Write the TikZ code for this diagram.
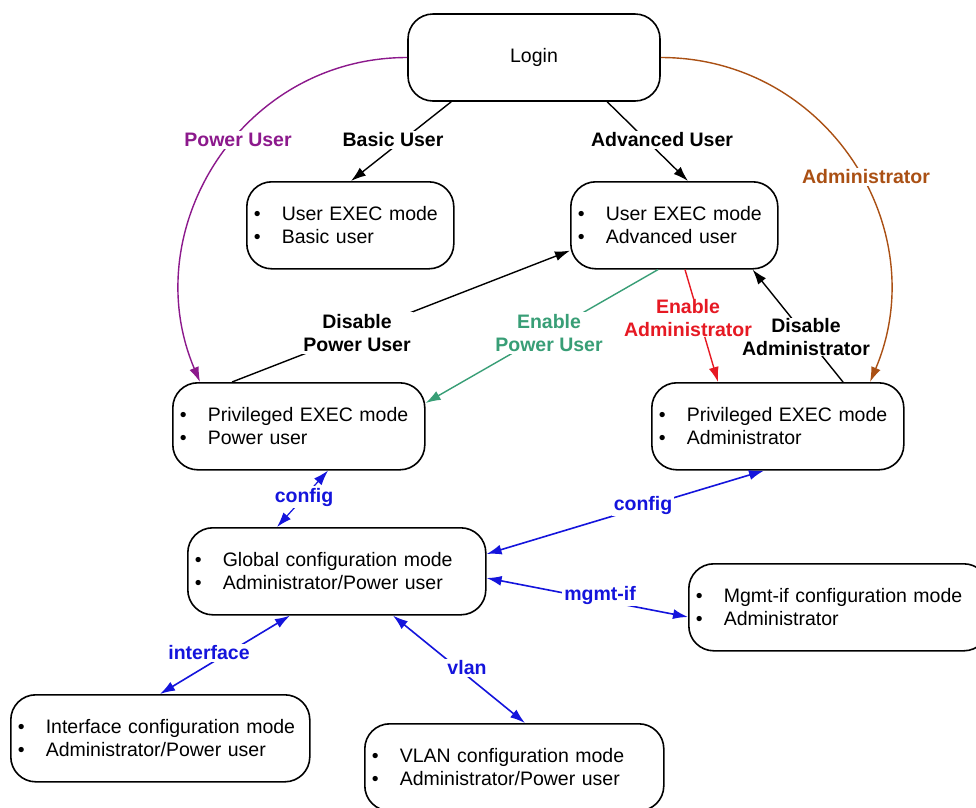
\documentclass[tikz,border=0pt]{standalone}
\usepackage{fontspec}
\setmainfont{Liberation Sans}
\usetikzlibrary{arrows.meta,calc}
\definecolor{pur}{RGB}{140,25,140}
\definecolor{brn}{RGB}{170,80,20}
\definecolor{grn}{RGB}{56,158,118}
\definecolor{rd}{RGB}{230,25,35}
\definecolor{blu}{RGB}{20,20,220}
\newcommand\bul{\makebox[28pt][l]{\textbullet}}
\begin{document}
\begin{tikzpicture}[x=1pt,y=1pt,
 every node/.style={font=\fontsize{19.5}{23}\selectfont},
 mode/.style={draw, line width=1.6pt, rounded corners=25pt, anchor=north west,
   minimum height=87pt, inner xsep=7pt, inner ysep=0pt, align=left},
 lbl/.style={fill=white, inner sep=2pt, align=center,
   font=\fontsize{19.5}{23}\selectfont\bfseries},
 con/.style={line width=1.4pt, -{Latex[length=15pt,width=10pt]}},
 bcon/.style={line width=1.6pt, blu,
   {Latex[length=15pt,width=10pt]}-{Latex[length=15pt,width=10pt]}},
]
\useasboundingbox (0,0) rectangle (976,-807);
\clip (0,0) rectangle (976,-807);
\fill[white] (0,0) rectangle (976,-807);

% mode boxes
\node[draw, line width=1.6pt, rounded corners=25pt, minimum width=252pt, minimum height=87pt] (login) at (534,-57.5) {Login};
\node[mode, text width=193pt] (ub) at (246,-181) {\bul User EXEC mode\\\bul Basic user};
\node[mode, text width=193pt] (ua) at (570,-181) {\bul User EXEC mode\\\bul Advanced user};
\node[mode, text width=238pt] (pp) at (172,-382) {\bul Privileged EXEC mode\\\bul Power user};
\node[mode, text width=238pt] (pa) at (651,-382) {\bul Privileged EXEC mode\\\bul Administrator};
\node[mode, text width=284pt] (gc) at (187,-527) {\bul Global configuration mode\\\bul Administrator/Power user};
\node[mode, text width=286pt] (mg) at (688,-563) {\bul Mgmt-if configuration mode\\\bul Administrator};
\node[mode, text width=285pt] (ic) at (10,-694) {\bul Interface configuration mode\\\bul Administrator/Power user};
\node[mode, text width=285pt] (vl) at (364,-723) {\bul VLAN configuration mode\\\bul Administrator/Power user};

% connectors
\draw[con] ($(login.south west)+(44,0)$) -- ($(ub.north west)+(105,0)$);
\draw[con] ($(login.south west)+(200,0)$) -- ($(ua.north west)+(118,0)$);
\draw[con, pur] (login.west) to[out=180,in=113,looseness=1.1] ($(pp.north west)+(28,0)$);
\draw[con, brn] (login.east) to[out=0,in=67,looseness=1.1] ($(pa.north west)+(219,0)$);
\draw[con] ($(pp.north west)+(60,0)$) -- ($(ua.south west)+(0,19)$);
\draw[con, grn] ($(ua.south west)+(88,0)$) -- ($(pp.north east)+(0,-21)$);
\draw[con, rd] ($(ua.south west)+(115,0)$) -- ($(pa.north west)+(67,0)$);
\draw[con] ($(pa.north west)+(192,0)$) -- ($(ua.south east)+(-26,0)$);
\draw[bcon, line width=1.2pt] ($(pp.south west)+(156,0)$) -- ($(gc.north west)+(90,0)$);
\draw[bcon] ($(gc.north east)+(0,-27)$) -- ($(pa.south west)+(113,0)$);
\draw[bcon] ($(gc.north east)+(0,-51)$) -- ($(mg.north west)+(0,-54)$);
\draw[bcon] ($(gc.south west)+(103,0)$) -- ($(ic.north west)+(150,0)$);
\draw[bcon] ($(gc.south west)+(206,0)$) -- ($(vl.north west)+(161,0)$);

% labels
\node[lbl] (lbasic) at (393,-140) {Basic User};
\node[lbl] (ladv) at (662,-140) {Advanced User};
\node[lbl, text=pur] (lpow) at (238,-140) {Power User};
\node[lbl, text=brn] (ladm) at (866,-177) {Administrator};
\node[lbl] (ldpu) at (357,-333) {Disable\\Power User};
\node[lbl, text=grn] (lepu) at (549,-333) {Enable\\Power User};
\node[lbl, inner ysep=0pt] (ldad) at (806,-337) {Disable\\Administrator};
\node[lbl, text=rd, inner ysep=0pt, inner xsep=1pt] (lead) at (688,-318) {Enable\\Administrator};
\node[lbl, text=blu] (lcf1) at (304,-497) {config};
\node[lbl, text=blu] (lcf2) at (643,-505) {config};
\node[lbl, text=blu] (lmg) at (600,-595) {mgmt-if};
\node[lbl, text=blu] (lif) at (209,-653) {interface};
\node[lbl, text=blu] (lvl) at (467,-668) {vlan};
\end{tikzpicture}
\end{document}
